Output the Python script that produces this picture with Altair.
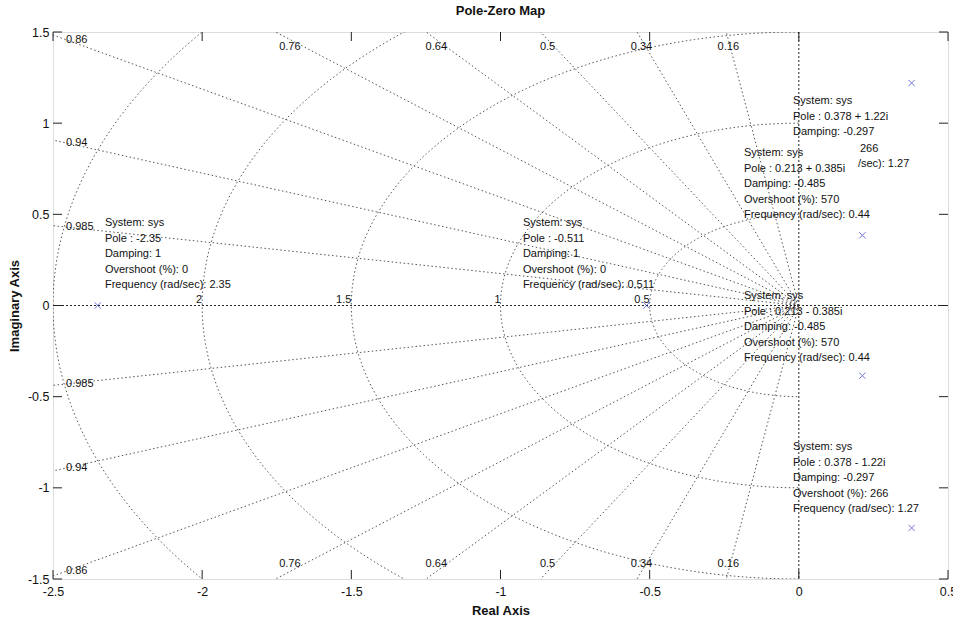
import numpy as np
import pandas as pd
import altair as alt

# Poles of sys (real and imaginary parts)
pole_re = [-2.35, -0.511, 0.213, 0.213, 0.378, 0.378]
pole_im = [0.0, 0.0, 0.385, -0.385, 1.22, -1.22]

# s-plane grid: damping ratios (rays) and natural frequencies (arcs)
damping_values = [0.16, 0.34, 0.5, 0.64, 0.76, 0.86, 0.94, 0.985]
damping_labels = ["0.16", "0.34", "0.5", "0.64", "0.76", "0.86", "0.94", "0.985"]
freq_values = [0.5, 1.0, 1.5, 2.0, 2.5]
freq_labels = ["0.5", "1", "1.5", "2"]

x_ticks = [-2.5, -2, -1.5, -1, -0.5, 0, 0.5]
y_ticks = [-1.5, -1, -0.5, 0, 0.5, 1, 1.5]

# Data tips: text lines and the point of their first line
tip_lines = [
    ["System: sys", "Pole : -2.35", "Damping: 1", "Overshoot (%): 0", "Frequency (rad/sec): 2.35"],
    ["System: sys", "Pole : -0.511", "Damping: 1", "Overshoot (%): 0", "Frequency (rad/sec): 0.511"],
    ["System: sys", "Pole : 0.378 + 1.22i", "Damping: -0.297"],
    ["266"],
    ["/sec): 1.27"],
    ["System: sys", "Pole : 0.213 + 0.385i", "Damping: -0.485", "Overshoot (%): 570", "Frequency (rad/sec): 0.44"],
    ["System: sys", "Pole : 0.213 - 0.385i", "Damping: -0.485", "Overshoot (%): 570", "Frequency (rad/sec): 0.44"],
    ["System: sys", "Pole : 0.378 - 1.22i", "Damping: -0.297", "Overshoot (%): 266", "Frequency (rad/sec): 1.27"],
]
tip_x = [-2.326, -0.925, -0.0195, 0.205, 0.198, -0.184, -0.184, -0.0195]
tip_y = [0.4525, 0.4525, 1.122, 0.858, 0.776, 0.836, 0.052, -0.776]

X_DOM = [-2.5, 0.5]
Y_DOM = [-1.5, 1.5]
W, H = 895, 547
LINE_STEP = 15.6 * (Y_DOM[1] - Y_DOM[0]) / H
PX_X = (X_DOM[1] - X_DOM[0]) / W
PX_Y = (Y_DOM[1] - Y_DOM[0]) / H

TEXT_FONT = "Liberation Sans, Arial, Helvetica"
GRID_COLOR = "#555555"
GRID_DASH = [1.5, 2.5]

xs = alt.Scale(domain=X_DOM, nice=False, zero=False)
ys = alt.Scale(domain=Y_DOM, nice=False, zero=False)

AX_X = alt.Axis(
    values=x_ticks, labelExpr="'' + datum.value", title="Real Axis",
    grid=False, ticks=False, domain=False, labelFlush=False,
    labelFont=TEXT_FONT, labelFontSize=12.5, labelColor="#111",
    labelPadding=6, titleFont=TEXT_FONT, titleFontSize=13,
    titleFontWeight="bold", titleColor="#111", titlePadding=7)
AX_Y = alt.Axis(
    values=y_ticks, labelExpr="'' + datum.value", title="Imaginary Axis",
    grid=False, ticks=False, domain=False, labelFlush=False,
    labelFont=TEXT_FONT, labelFontSize=12.5, labelColor="#111",
    labelPadding=4, titleFont=TEXT_FONT, titleFontSize=13,
    titleFontWeight="bold", titleColor="#111", titlePadding=6)


def ex(field):
    return alt.X(field, type="quantitative", scale=xs, axis=AX_X)


def ey(field):
    return alt.Y(field, type="quantitative", scale=ys, axis=AX_Y)


# natural-frequency arcs in the left half plane
arc_rows = []
for r in freq_values:
    for k, t in enumerate(np.linspace(np.pi / 2, 3 * np.pi / 2, 241)):
        arc_rows.append({"r": r, "k": k, "x": r * np.cos(t), "y": r * np.sin(t)})
arcs = pd.DataFrame(arc_rows)

# damping rays from the origin, upper and lower
ray_rows = []
R = 5.0
for z in damping_values:
    s = np.sqrt(1 - z * z)
    for sign in (1, -1):
        ray_rows.append({"x": 0.0, "y": 0.0, "x2": -z * R, "y2": sign * s * R})
rays = pd.DataFrame(ray_rows)

# damping labels where each ray meets the frame
dl_rows = []
for z, lab in zip(damping_values, damping_labels):
    slope = np.sqrt(1 - z * z) / z
    if X_DOM[0] * -slope <= Y_DOM[1]:
        xl = X_DOM[0] + 13 * PX_X
        yl = -xl * slope
        for sign in (1, -1):
            dl_rows.append({"x": xl, "y": sign * yl, "t": lab, "a": "left"})
    else:
        yl = Y_DOM[1] - 15 * PX_Y
        xl = -(Y_DOM[1] - 7.5 * PX_Y) / slope
        for sign in (1, -1):
            dl_rows.append({"x": xl, "y": sign * yl, "t": lab, "a": "center"})
dlab = pd.DataFrame(dl_rows)

flab = pd.DataFrame({"x": [-v for v in freq_values[:len(freq_labels)]],
                     "y": [0.0] * len(freq_labels), "t": freq_labels})

poles = pd.DataFrame({"x": pole_re, "y": pole_im})

tip_rows = []
for lines, x0, y0 in zip(tip_lines, tip_x, tip_y):
    for i, line in enumerate(lines):
        tip_rows.append({"x": x0, "y": y0 - i * LINE_STEP, "t": line})
tips = pd.DataFrame(tip_rows)

xt = pd.DataFrame({"x": x_ticks})
yt = pd.DataFrame({"y": y_ticks})

arc_layer = alt.Chart(arcs).mark_line(
    clip=True, color=GRID_COLOR, strokeWidth=1, strokeDash=GRID_DASH
).encode(x=ex("x"), y=ey("y"), detail="r:N", order="k:Q")

ray_layer = alt.Chart(rays).mark_rule(
    clip=True, color=GRID_COLOR, strokeWidth=1, strokeDash=GRID_DASH
).encode(x=ex("x"), y=ey("y"), x2="x2:Q", y2="y2:Q")

zero_h = alt.Chart(pd.DataFrame({"y": [0.0]})).mark_rule(
    color="#222", strokeWidth=1, strokeDash=[2, 2]
).encode(y=ey("y"))
zero_v = alt.Chart(pd.DataFrame({"x": [0.0]})).mark_rule(
    color="#222", strokeWidth=1, strokeDash=[2, 2]
).encode(x=ex("x"))

dlab_left = alt.Chart(dlab[dlab.a == "left"]).mark_text(
    align="left", baseline="middle", font=TEXT_FONT, fontSize=11, color="#111"
).encode(x=ex("x"), y=ey("y"), text="t:N")
dlab_top = alt.Chart(dlab[dlab.a == "center"]).mark_text(
    align="center", baseline="middle", font=TEXT_FONT, fontSize=11, color="#111"
).encode(x=ex("x"), y=ey("y"), text="t:N")

flab_layer = alt.Chart(flab).mark_text(
    align="right", baseline="bottom", dy=-1, font=TEXT_FONT, fontSize=11, color="#111"
).encode(x=ex("x"), y=ey("y"), text="t:N")

tick_bottom = alt.Chart(xt).mark_rule(color="#222").encode(
    x=ex("x"), y=alt.value(H), y2=alt.value(H - 9))
tick_top = alt.Chart(xt).mark_rule(color="#222").encode(
    x=ex("x"), y=alt.value(0), y2=alt.value(9))
tick_left = alt.Chart(yt).mark_rule(color="#222").encode(
    y=ey("y"), x=alt.value(0), x2=alt.value(9))
tick_right = alt.Chart(yt).mark_rule(color="#222").encode(
    y=ey("y"), x=alt.value(W), x2=alt.value(W - 9))

pole_layer = alt.Chart(poles).mark_point(
    shape="M-1,-1L1,1M1,-1L-1,1", size=40, color="#3c3ccc", strokeWidth=1,
    filled=False
).encode(x=ex("x"), y=ey("y"))

tip_layer = alt.Chart(tips).mark_text(
    align="left", baseline="middle", font=TEXT_FONT, fontSize=11, color="#111"
).encode(x=ex("x"), y=ey("y"), text="t:N")

chart = alt.layer(
    arc_layer, ray_layer, zero_h, zero_v, dlab_left, dlab_top,
    flab_layer, tick_bottom, tick_top, tick_left, tick_right, pole_layer, tip_layer
).properties(
    width=W, height=H,
    title=alt.TitleParams("Pole-Zero Map", font=TEXT_FONT, fontSize=13,
                          fontWeight="bold", color="#111", offset=8, anchor="middle"),
    padding={"left": 53, "top": 32, "right": 5, "bottom": 47},
    autosize="none",
).configure_view(stroke="#222", strokeWidth=1).configure(background="white")

chart.save("out.html", embed_options={"renderer": "svg", "actions": False})
